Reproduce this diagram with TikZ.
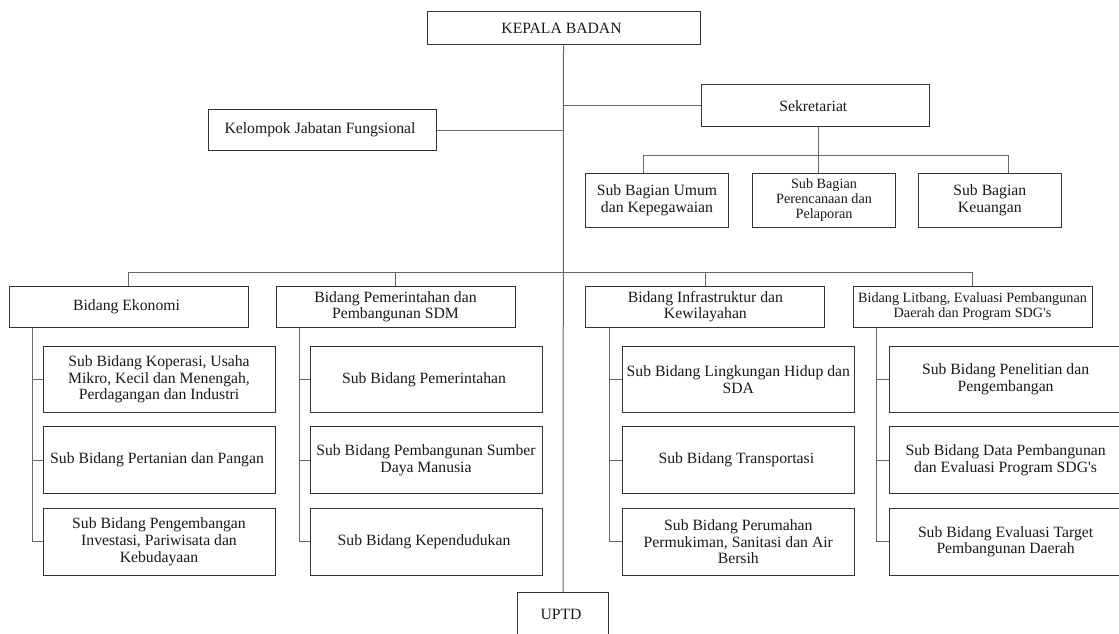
\documentclass[tikz,border=0pt]{standalone}
\usepackage{fontspec}
\setmainfont{Liberation Serif}
\usepackage{tikz}

\newcommand{\normsz}{\fontsize{15.7}{16.7}\selectfont}
\newcommand{\smallsz}{\fontsize{14.2}{15}\selectfont}
\newcommand{\sdgs}{SDG\textquotesingle s}

\begin{document}
\begin{tikzpicture}[x=1pt, y=-1pt,
		box/.style={draw=black!80, line width=1pt, inner sep=0pt, align=center, font=\normsz, text=black!90},
		bidbox/.style={box, minimum width=239pt, minimum height=41.3pt},
		subbox/.style={box, minimum width=232pt, minimum height=66.4pt},
		bagbox/.style={box, minimum width=143.5pt, minimum height=54.4pt},
		link/.style={draw=black!60, line width=1pt}]
			\useasboundingbox (0, 0) rectangle (1119, 634);
			\node[box, minimum width=273pt, minimum height=33.3pt] (kepala) at (563.5, 28.3) { KEPALA BADAN };
			\node[box, minimum width=228pt, minimum height=41.4pt] (kelompok) at (322, 130) { Kelompok Jabatan Fungsional };
			\node[box, minimum width=227.5pt, minimum height=41.7pt] (sekret) at (815.3, 105.8) { Sekretariat };
			\node[bagbox] (umum) at (657, 200.5) { Sub Bagian Umum\\dan Kepegawaian };
			\node[bagbox, font=\smallsz] (perenc) at (824, 200.5) { Sub Bagian\\Perencanaan dan\\Pelaporan };
			\node[bagbox] (keu) at (989.8, 200.5) { Sub Bagian\\Keuangan };
			\node[bidbox] (ekonomi) at (128.5, 306.7) { Bidang Ekonomi };
			\node[bidbox] (pem) at (395.5, 306.7) { Bidang Pemerintahan dan\\Pembangunan SDM };
			\node[bidbox] (infra) at (705.4, 306.7) { Bidang Infrastruktur dan\\Kewilayahan };
			\node[bidbox, font=\smallsz] (litbang) at (972.5, 306.7) { Bidang Litbang, Evaluasi Pembangunan\\Daerah dan Program \sdgs };
			\node[subbox] (ek1) at (159, 379.5) { Sub Bidang Koperasi, Usaha\\Mikro, Kecil dan Menengah,\\Perdagangan dan Industri };
			\node[subbox] (ek2) at (159, 460) { Sub Bidang Pertanian dan Pangan };
			\node[subbox] (ek3) at (159, 541.8) { Sub Bidang Pengembangan\\Investasi, Pariwisata dan\\Kebudayaan };
			\node[subbox] (pm1) at (426, 379.5) { Sub Bidang Pemerintahan };
			\node[subbox] (pm2) at (426, 460) { Sub Bidang Pembangunan Sumber\\Daya Manusia };
			\node[subbox] (pm3) at (426, 541.8) { Sub Bidang Kependudukan };
			\node[subbox] (in1) at (738.3, 379.5) { Sub Bidang Lingkungan Hidup dan\\SDA };
			\node[subbox] (in2) at (738.3, 460) { Sub Bidang Transportasi };
			\node[subbox] (in3) at (738.3, 541.8) { Sub Bidang Perumahan\\Permukiman, Sanitasi dan Air\\Bersih };
			\node[subbox] (lb1) at (1005.6, 379.5) { Sub Bidang Penelitian dan\\Pengembangan };
			\node[subbox] (lb2) at (1005.6, 460) { Sub Bidang Data Pembangunan\\dan Evaluasi Program \sdgs };
			\node[subbox] (lb3) at (1005.6, 541.8) { Sub Bidang Evaluasi Target\\Pembangunan Daerah };
			\node[box, minimum width=91.7pt, minimum height=44pt] (uptd) at (563, 614.7) { UPTD };
			\coordinate (sekbar) at (818, 155.7);
			\coordinate (bidbar) at (563, 272.3);
			\draw[link] (kepala.south) -- (uptd.north);
			\draw[link] (kelompok.east) -- (kelompok.east -| kepala.south);
			\draw[link] (sekret.west) -- (sekret.west -| kepala.south);
			\draw[link] (sekret.south -| sekbar) -- (sekbar);
			\draw[link] ([xshift=-13.6pt]umum.north) |- (sekbar) -| ([xshift=18.7pt]keu.north);
			\draw[link] (sekbar) -- (perenc.north -| sekbar);
			\draw[link] (ekonomi.north) |- (bidbar) -| (litbang.north);
			\draw[link] (pem.north) -- (pem.north |- bidbar);
			\draw[link] (infra.north) -- (infra.north |- bidbar);
			\foreach \b/\s in {ekonomi/ek, pem/pm, infra/in, litbang/lb}
				\foreach \i in {1, 2, 3}
					\draw[link] ([xshift=24pt]\b.south west) |- (\s\i.west);
		\end{tikzpicture}
\end{document}
